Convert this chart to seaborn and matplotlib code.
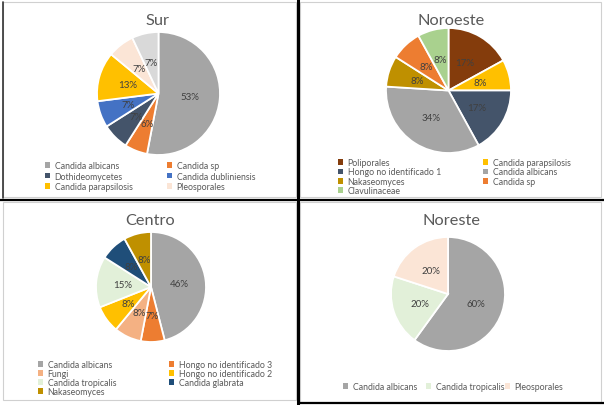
import matplotlib
matplotlib.use("Agg")
import matplotlib.pyplot as plt
from matplotlib.patches import Patch, Rectangle
from matplotlib.lines import Line2D
import seaborn as sns

sns.set_style("white")
plt.rcParams['font.family'] = ['Lato', 'DejaVu Sans']

W, H = 604, 406

# Sur
sur_labels = ["Candida albicans", "Candida sp", "Dothideomycetes", "Candida dubliniensis",
              "Candida parapsilosis", "Pleosporales", "Otros"]
sur_values = [53, 6, 7, 7, 13, 7, 7]
sur_colors = ["#A5A5A5", "#ED7D31", "#44546A", "#4472C4", "#FFC000", "#FBE5D6", "#D9D9D9"]

# Noroeste
noro_labels = ["Poliporales", "Candida parapsilosis", "Hongo no identificado 1", "Candida albicans",
               "Nakaseomyces", "Candida sp", "Clavulinaceae"]
noro_values = [17, 8, 17, 34, 8, 8, 8]
noro_colors = ["#843C0C", "#FFC000", "#44546A", "#A5A5A5", "#BF9000", "#ED7D31", "#A9D18E"]

# Centro
centro_labels = ["Candida albicans", "Hongo no identificado 3", "Fungi", "Hongo no identificado 2",
                 "Candida tropicalis", "Candida glabrata", "Nakaseomyces"]
centro_values = [46, 7, 8, 8, 15, 8, 8]
centro_colors = ["#A5A5A5", "#ED7D31", "#F4B183", "#FFC000", "#E2F0D9", "#1F4E79", "#BF9000"]

# Noreste
nore_labels = ["Candida albicans", "Candida tropicalis", "Pleosporales"]
nore_values = [60, 20, 20]
nore_colors = ["#A5A5A5", "#E2F0D9", "#FBE5D6"]


def fx(x):
    return x / W


def fy(y):
    return 1 - y / H


fig = plt.figure(figsize=(W / 100, H / 100), dpi=100)

# panel frames
for x0, y0, x1, y1 in [(3, 3, 296, 198), (300, 3, 601, 198), (3, 203, 296, 401), (300, 203, 601, 403)]:
    fig.patches.append(Rectangle((fx(x0), fy(y1)), (x1 - x0) / W, (y1 - y0) / H,
                                 transform=fig.transFigure, fill=False, edgecolor="#D0D0D0", lw=0.8))
fig.lines.append(Line2D([fx(297.5), fx(297.5)], [0, 1], transform=fig.transFigure, color="black", lw=2.2))
fig.lines.append(Line2D([0, 1], [fy(200.5), fy(200.5)], transform=fig.transFigure, color="black", lw=1.6))
fig.lines.append(Line2D([fx(3), fx(3)], [fy(3), fy(199)], transform=fig.transFigure, color="#333333", lw=1.2))
fig.lines.append(Line2D([fx(300), 1], [fy(403.5), fy(403.5)], transform=fig.transFigure, color="black", lw=1.6))


def draw_panel(title, labels, values, colors, cx, cy, r, tx, ty, cols, col_x, leg_y, spacing):
    pad = 1.03
    ax = fig.add_axes([fx(cx - r * pad), fy(cy + r * pad), 2 * r * pad / W, 2 * r * pad / H])
    ax.pie(values, colors=colors, startangle=90, counterclock=False,
           autopct=lambda p: f"{p:.0f}%", pctdistance=0.52,
           wedgeprops=dict(edgecolor="white", linewidth=1.3),
           textprops=dict(color="#404040", fontsize=7))
    ax.set_xlim(-pad, pad)
    ax.set_ylim(-pad, pad)
    fig.text(fx(tx), fy(ty), title, ha="center", va="center", fontsize=11.8, color="#595959")
    handles = [Patch(facecolor=c, edgecolor="none") for c in colors]
    for col, x in zip(cols, col_x):
        fig.legend([handles[i] for i in col], [labels[i] for i in col],
                   loc="upper left", bbox_to_anchor=(fx(x), fy(leg_y)),
                   frameon=False, fontsize=6.3, labelcolor="#595959",
                   handlelength=0.6, handleheight=0.6, handletextpad=0.5,
                   labelspacing=spacing, borderpad=0, borderaxespad=0)


draw_panel("Sur", sur_labels, sur_values, sur_colors, 158.5, 94.5, 61.5, 158, 21,
           [[0, 2, 4], [1, 3, 5]], [45, 167], 162, 0.18)
draw_panel("Noroeste", noro_labels, noro_values, noro_colors, 448.5, 91.5, 62.5, 451, 21,
           [[0, 2, 4, 6], [1, 3, 5]], [338, 483], 159, 0.05)
draw_panel("Centro", centro_labels, centro_values, centro_colors, 151, 288, 55, 150, 221,
           [[0, 2, 4, 6], [1, 3, 5]], [38, 169], 361, 0.0)
draw_panel("Noreste", nore_labels, nore_values, nore_colors, 448, 295, 57, 451, 221,
           [[0], [1], [2]], [343, 426, 505], 383, 0.2)

fig.savefig("out.png", dpi=100)
